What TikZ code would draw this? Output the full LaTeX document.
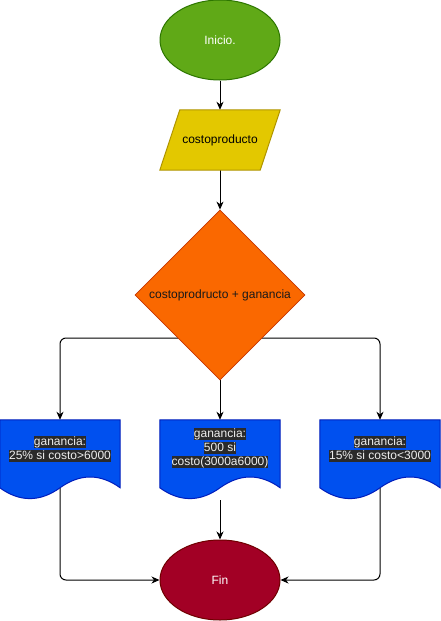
\documentclass[tikz,border=0pt]{standalone}
\usepackage{fontspec}
\setmainfont{Liberation Sans}
\usetikzlibrary{shapes.geometric,arrows.meta}
\definecolor{inifill}{HTML}{60A917}
\definecolor{inidraw}{HTML}{2D7600}
\definecolor{parfill}{HTML}{E3C800}
\definecolor{pardraw}{HTML}{B09500}
\definecolor{diafill}{HTML}{FA6800}
\definecolor{diadraw}{HTML}{C73500}
\definecolor{docfill}{HTML}{0050EF}
\definecolor{docdraw}{HTML}{001DBC}
\definecolor{finfill}{HTML}{A20025}
\definecolor{findraw}{HTML}{6F0000}
\definecolor{lblbg}{HTML}{2A2A2A}
\definecolor{lbltext}{HTML}{EEEEEE}
\pgfdeclarelayer{paper}
\pgfdeclarelayer{back}
\pgfdeclarelayer{shp}
\pgfsetlayers{paper,back,shp,main}
\newcommand\hlb[1]{{\setlength\fboxsep{0pt}\colorbox{lblbg}{\rule[-3.2pt]{0pt}{12.8pt}#1}}}
\newcommand\docshape[1]{%
  \path[docsty] (#1.north west) -- (#1.north east) -- ([yshift=-68pt]#1.north east)
   .. controls ([xshift=-20pt,yshift=-53.6pt]#1.north east) and ([xshift=20pt,yshift=-53.6pt]#1.north) .. ([yshift=-68pt]#1.north)
   .. controls ([xshift=-20pt,yshift=-82.4pt]#1.north) and ([xshift=20pt,yshift=-82.4pt]#1.north west) .. ([yshift=-68pt]#1.north west) -- cycle;}
\tikzset{
  base/.style={inner sep=0pt, font=\fontsize{12}{14}\selectfont, align=center},
  term/.style={base, ellipse, minimum width=120pt, minimum height=80pt, line width=1pt, text=white},
  frame/.style={inner sep=0pt, minimum width=120pt, minimum height=#1},
  docsty/.style={fill=docfill, draw=docdraw, line width=1pt},
  doclabel/.style={base, text=lbltext},
  conn/.style={draw=black, line width=1pt, -{Stealth[length=8pt,width=7pt,inset=2.5pt]}},
}
\begin{document}
\begin{tikzpicture}[x=1pt,y=-1pt]
  \begin{pgfonlayer}{paper}
    \fill[white] (0,0) rectangle (441,621);
  \end{pgfonlayer}
  \useasboundingbox (0,0) rectangle (441,621);
  % nodes
  \node[term, fill=inifill, draw=inidraw] (ini) at (220,40) {Inicio.};
  \node[frame=60pt] (par) at (220,140) {};
  \node[base, text=black] (part) at (220,140) {costoproducto};
  \node[base, diamond, minimum width=170pt, minimum height=170pt, fill=diafill, draw=diadraw, line width=0.8pt, text=black!90] (dia) at (220,295) {costoprodructo + ganancia};
  \node[frame=80pt] (docL) at (60,460) {};
  \node[frame=80pt] (docM) at (220,460) {};
  \node[frame=80pt] (docR) at (380,460) {};
  \node[doclabel] (docLt) at (60,449) {\hlb{ganancia:}\\\hlb{25\% si costo>6000}};
  \node[doclabel] (docMt) at (220,448) {\hlb{ganancia:}\\\hlb{500 si}\\\hlb{costo(3000a6000)}};
  \node[doclabel] (docRt) at (380,449) {\hlb{ganancia:}\\\hlb{15\% si costo<3000}};
  \node[term, fill=finfill, draw=findraw] (fin) at (220,580) {Fin};
  % custom shapes
  \begin{pgfonlayer}{shp}
    \path[fill=parfill, draw=pardraw, line width=1pt] ([xshift=20pt]par.north west) -- (par.north east) -- ([xshift=-20pt]par.south east) -- (par.south west) -- cycle;
    \docshape{docL}
    \docshape{docM}
    \docshape{docR}
  \end{pgfonlayer}
  % connectors
  \begin{pgfonlayer}{back}
    \draw[conn] (ini.south) -- (par.north);
    \draw[conn] (par.south) -- (dia.north);
    \draw[conn] (dia.south) -- (docM.north);
    \draw[conn, rounded corners=6pt] ([yshift=-43pt]dia.center) -| (docL.north);
    \draw[conn, rounded corners=6pt] ([yshift=-43pt]dia.center) -| (docR.north);
    \draw[conn] (docM.south) -- (fin.north);
    \draw[conn, rounded corners=6pt] ([yshift=12pt]docL.south) |- (fin.west);
    \draw[conn, rounded corners=6pt] ([yshift=12pt]docR.south) |- (fin.east);
  \end{pgfonlayer}
\end{tikzpicture}
\end{document}
